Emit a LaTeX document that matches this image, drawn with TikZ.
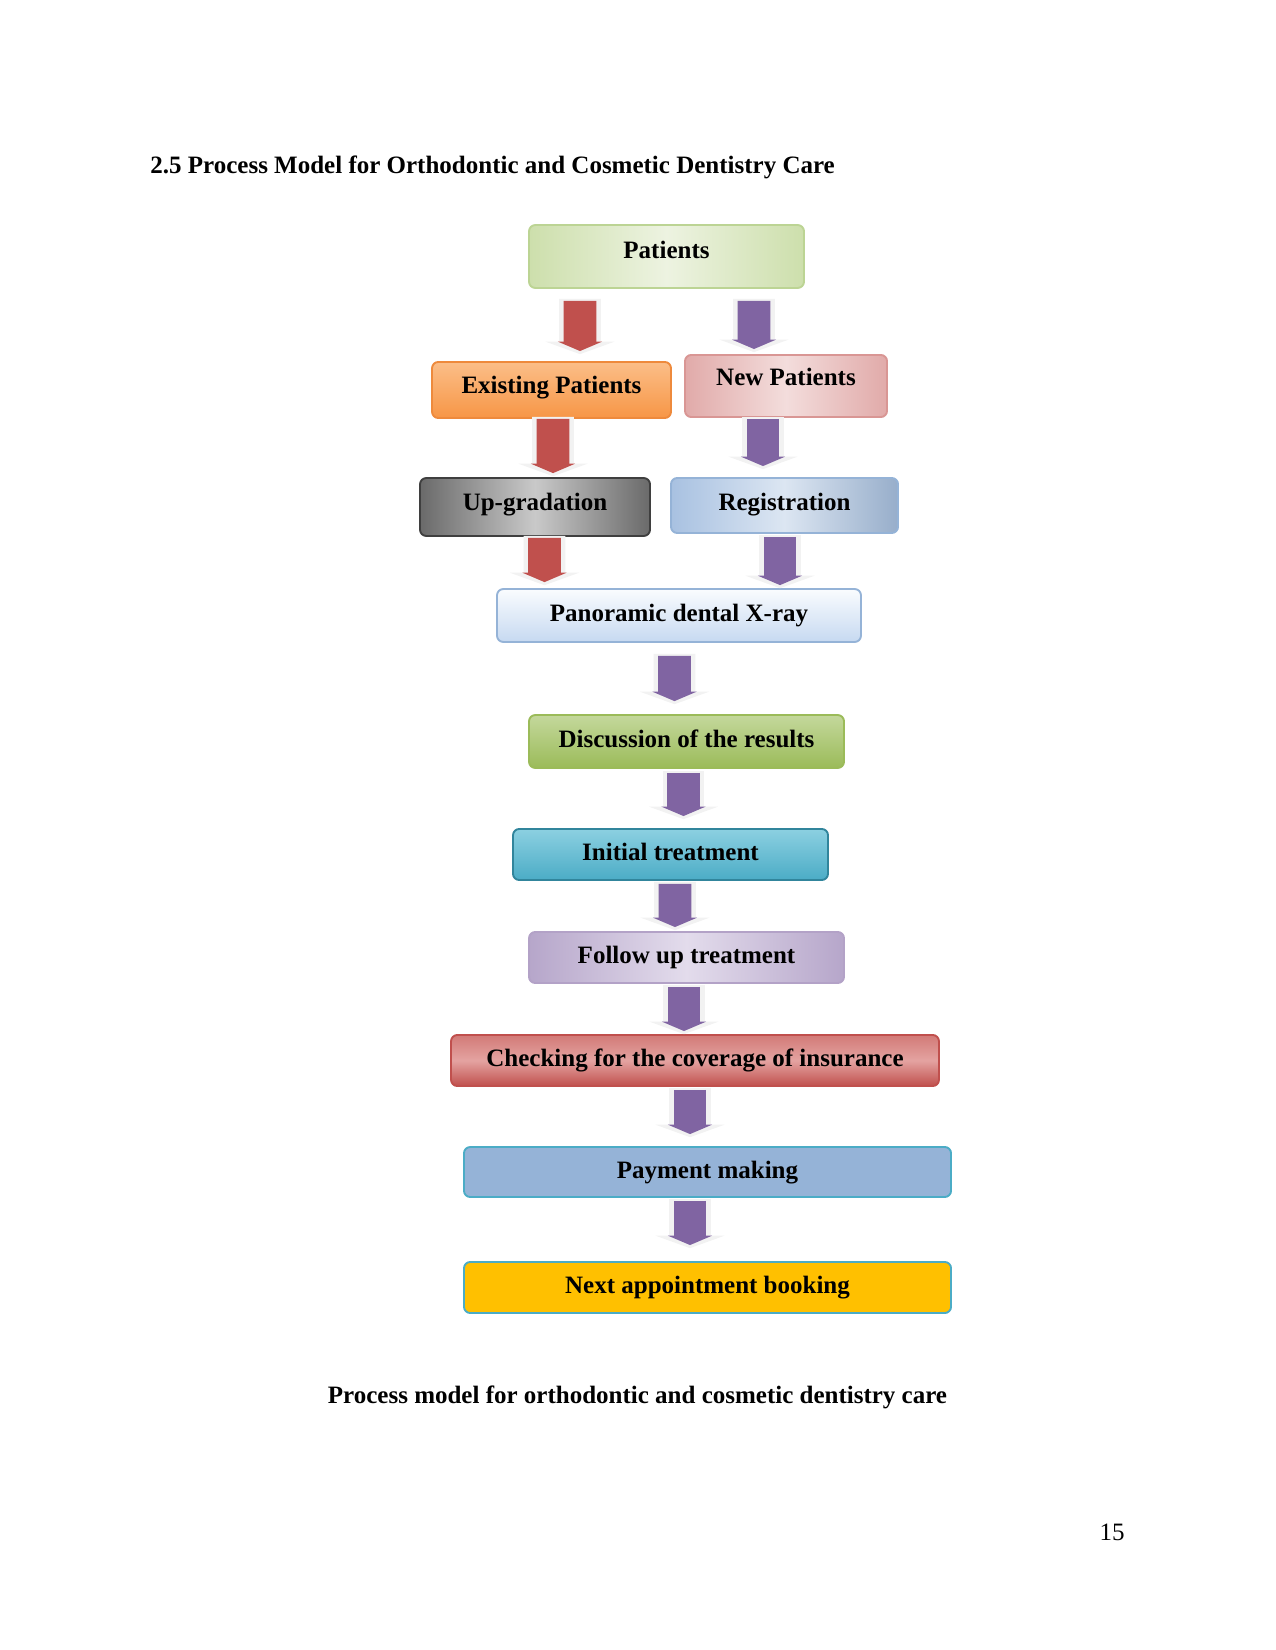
\documentclass[12pt,tikz,border=0pt]{standalone}
\usepackage{fontspec}
\setmainfont{Liberation Serif}
\usetikzlibrary{arrows.meta}
\definecolor{PMred}{HTML}{C0504D}
\definecolor{PMviolet}{HTML}{8064A2}
\definecolor{patS}{HTML}{CDDFAC}
\definecolor{patM}{HTML}{EDF3E1}
\definecolor{patB}{HTML}{BCD494}
\definecolor{exT}{HTML}{FBBE88}
\definecolor{exB}{HTML}{F79646}
\definecolor{exD}{HTML}{EE8A3C}
\definecolor{newS}{HTML}{E1AAA9}
\definecolor{newM}{HTML}{F3DDDC}
\definecolor{newB}{HTML}{D99694}
\definecolor{upS}{HTML}{6A6A6A}
\definecolor{upM}{HTML}{C9C9C9}
\definecolor{upB}{HTML}{3F3F3F}
\definecolor{regS}{HTML}{A8C1E1}
\definecolor{regM}{HTML}{DCE6F2}
\definecolor{regB}{HTML}{95B3D7}
\definecolor{xrT}{HTML}{FAFCFE}
\definecolor{xrB}{HTML}{C6D9F1}
\definecolor{diT}{HTML}{C4D89C}
\definecolor{diB}{HTML}{9BBB59}
\definecolor{inT}{HTML}{8CD0E1}
\definecolor{inB}{HTML}{4BACC6}
\definecolor{inD}{HTML}{31859C}
\definecolor{foS}{HTML}{B6A6CA}
\definecolor{foM}{HTML}{E3DCEC}
\definecolor{foB}{HTML}{B3A2C7}
\definecolor{chT}{HTML}{D27A77}
\definecolor{chM}{HTML}{E4A3A1}
\definecolor{payF}{HTML}{95B3D7}
\definecolor{nextF}{HTML}{FFC000}
\begin{document}
\begin{tikzpicture}[x=0.48pt,y=-0.48pt,
  stage/.style={draw,rounded corners=3pt,line width=0.9pt,font=\bfseries,inner sep=0pt,text height=8.5pt,text depth=2.5pt,align=center},
  flow/.style={line width=15.8pt,-{Triangle[width=21pt,length=4.5pt]},
    preaction={draw=black!5,line width=20pt,-{Triangle[width=33pt,length=6pt]},shorten >=-1.5pt,shorten <=-1pt}},
  redflow/.style={flow,draw=PMred},violetflow/.style={flow,draw=PMviolet}]
\useasboundingbox (0,0) rectangle (1275,1650);
\node[anchor=west,font=\bfseries,inner sep=0pt] (title) at (150,167) {2.5 Process Model for Orthodontic and Cosmetic Dentistry Care};
% two entry branches
\node[stage,draw=patB,left color=patS,right color=patS,middle color=patM,minimum width=132pt,minimum height=30.2pt,text depth=7pt] (pat) at (666.5,256.5) {Patients};
\node[stage,draw=exD,top color=exT,bottom color=exB,minimum width=114.7pt,minimum height=26.9pt,text depth=5pt] (exist) at (551.5,390) {Existing Patients};
\node[stage,draw=newB,left color=newS,right color=newS,middle color=newM,minimum width=97pt,minimum height=29.8pt,text depth=9pt] (newp) at (786,386) {New Patients};
\node[stage,draw=upB,left color=upS,right color=upS,middle color=upM,minimum width=110.4pt,minimum height=27.8pt,text depth=5pt] (upg) at (535,507) {Up-gradation};
\node[stage,draw=regB,left color=regS,right color=regS!90!black,middle color=regM,minimum width=109pt,minimum height=26.4pt,text depth=4pt] (reg) at (784.5,505.5) {Registration};
% main line
\node[stage,draw=regB,top color=xrT,bottom color=xrB,minimum width=174.7pt,minimum height=25.4pt] (xray) at (679,615.5) {Panoramic dental X-ray};
\node[stage,draw=diB,top color=diT,bottom color=diB,minimum width=151.2pt,minimum height=25.4pt] (disc) at (686.5,741.5) {Discussion of the results};
\node[stage,draw=inD,top color=inT,bottom color=inB,minimum width=151.2pt,minimum height=24.5pt] (init) at (670.5,854.5) {Initial treatment};
\node[stage,draw=foB,left color=foS,right color=foS,middle color=foM,minimum width=151.2pt,minimum height=24.5pt] (follow) at (686.5,957.5) {Follow up treatment};
\node[stage,draw=PMred,top color=chT,bottom color=PMred,middle color=chM,minimum width=234.2pt,minimum height=24.5pt] (check) at (695,1060.5) {Checking for the coverage of insurance};
\node[stage,draw=inB,fill=payF,minimum width=233.8pt,minimum height=24pt] (pay) at (707.5,1172) {Payment making};
\node[stage,draw=inB,fill=nextF,minimum width=233.8pt,minimum height=24.5pt] (next) at (707.5,1287.5) {Next appointment booking};
% block arrows
\draw[redflow] ([shift={(-86.5,12)}]pat.south) -- ([shift={(28.5,-10)}]exist.north);
\draw[violetflow] ([shift={(87.5,12)}]pat.south) -- ([shift={(-32,-5)}]newp.north);
\draw[redflow] ([shift={(1.5,0)}]exist.south) -- ([shift={(18,-4)}]upg.north);
\draw[violetflow] ([shift={(-23,1)}]newp.south) -- ([shift={(-21.5,-11)}]reg.north);
\draw[redflow] ([shift={(9.5,1)}]upg.south) -- ([shift={(-134.5,-6)}]xray.north);
\draw[violetflow] ([shift={(-4.5,3)}]reg.south) -- ([shift={(101,-3)}]xray.north);
\draw[violetflow] ([shift={(-4.5,13)}]xray.south) -- ([shift={(-12,-13)}]disc.north);
\draw[violetflow] ([shift={(-3,4)}]disc.south) -- ([shift={(13,-12)}]init.north);
\draw[violetflow] ([shift={(4.5,3)}]init.south) -- ([shift={(-11.5,-4)}]follow.north);
\draw[violetflow] ([shift={(-2.5,3)}]follow.south) -- ([shift={(-11,-3)}]check.north);
\draw[violetflow] ([shift={(-5,3)}]check.south) -- ([shift={(-17.5,-12)}]pay.north);
\draw[violetflow] ([shift={(-17.5,3)}]pay.south) -- ([shift={(-17.5,-16)}]next.north);
\node[font=\bfseries] (cap) at (637.5,1397) {Process model for orthodontic and cosmetic dentistry care};
\node (pgno) at (1112,1532) {15};
\end{tikzpicture}
\end{document}
